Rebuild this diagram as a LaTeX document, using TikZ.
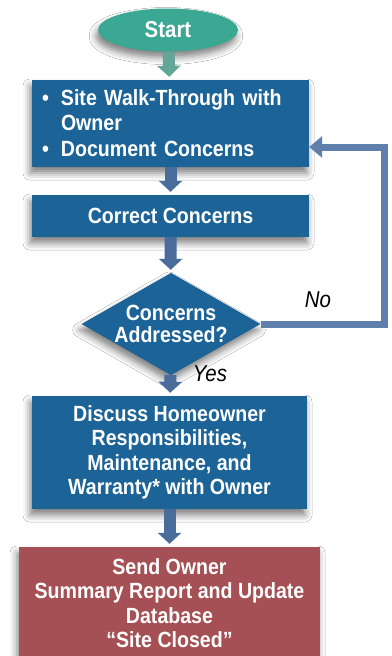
\documentclass[tikz,border=0pt]{standalone}
\usepackage{fontspec}
\setmainfont{Liberation Sans}[FakeStretch=0.89]
\usetikzlibrary{shapes.geometric,arrows.meta,shadows.blur}
\definecolor{boxblue}{HTML}{1C6397}
\definecolor{startteal}{HTML}{3BA893}
\definecolor{endred}{HTML}{A55054}
\definecolor{loopblue}{HTML}{5F80AC}
\definecolor{arrowblue}{HTML}{4A6C9B}
\definecolor{arrowteal}{HTML}{63A597}
\begin{document}
\begin{tikzpicture}[x=1pt,y=-1pt,
  font=\bfseries\fontsize{22}{24.5}\selectfont,
  shad/.style={blur shadow={shadow xshift=-2pt, shadow yshift=-6pt, shadow blur radius=7pt, shadow opacity=50}},
  procbox/.style={rectangle, fill=boxblue, text=white, shad, align=center, inner sep=0pt},
  endbox/.style={rectangle, fill=endred, text=white, shad, align=center, inner sep=0pt},
  flowarrow/.style={draw=arrowblue, line width=12pt, -{Triangle[width=23pt,length=11pt]}, shorten >=3pt},
  loopline/.style={draw=loopblue, line width=7pt, line join=miter, -{Triangle[width=21pt,length=13pt]}},
  answer/.style={font=\itshape\fontsize{23}{24}\selectfont, text=black}
]
\useasboundingbox (0,0) rectangle (391,656);
\fill[white] (0,0) rectangle (391,656);

\node[ellipse, fill=startteal, text=white, shad, minimum width=140pt, minimum height=43pt, inner sep=0pt,
  font=\bfseries\fontsize{23}{24}\selectfont] (start) at (168,30) {Start};

\node[procbox, minimum width=277pt, minimum height=87pt, text width=257pt, inner xsep=10pt, align=left] (box1) at (170.5,123.5)
  {\makebox[19pt][l]{\textbullet}Site Walk-Through with\\
   \makebox[19pt][l]{}Owner\\[2pt]
   \makebox[19pt][l]{\textbullet}Document Concerns};

\node[procbox, minimum width=277pt, minimum height=42pt] (box2) at (170.5,216) {Correct Concerns};

\node[diamond, aspect=1.75, fill=boxblue, text=white, shad, minimum width=178pt, minimum height=102pt,
  inner sep=0pt, align=center, font=\bfseries\fontsize{22}{22}\selectfont] (dia) at (171,324) {Concerns\\Addressed?};

\node[procbox, minimum width=275pt, minimum height=113pt] (box3) at (169.5,452.5)
  {Discuss Homeowner\\Responsibilities,\\Maintenance, and\\Warranty* with Owner};

\node[endbox, minimum width=301pt, minimum height=112pt] (box4) at (169.5,603)
  {Send Owner\\Summary Report and Update\\Database\\“Site Closed”};

\draw[flowarrow, draw=arrowteal] (start) -- (box1);
\draw[flowarrow] (box1) -- (box2);
\draw[flowarrow] (box2) -- (dia);
\draw[flowarrow] (dia) -- (box3);
\draw[flowarrow] (box3) -- (box4);

\coordinate (loopc) at (384,147);
\draw[loopline] (dia.east) -| (loopc) -- (box1.east |- loopc);

\node[answer] (no) at (318,300) {No};
\node[answer] (yes) at (210,374) {Yes};
\end{tikzpicture}
\end{document}
